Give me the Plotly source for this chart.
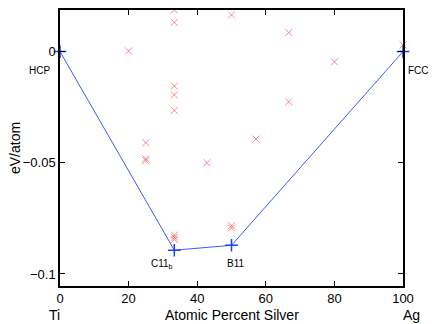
import plotly.graph_objects as go

# Red "x" structures: composition (at.% Ag) and formation energy (eV/atom)
pts_x = [20, 25, 25, 25, 33.33, 33.33, 33.33, 33.33, 33.33, 33.33, 33.33, 33.33,
         42.86, 50, 50, 50, 57.14, 66.67, 66.67, 80, 100]
pts_y = [0.0003, -0.041, -0.0482, -0.0490, 0.0187, 0.0131, -0.0155, -0.0195, -0.0265,
         -0.0825, -0.0835, -0.0845, -0.0500, 0.0165, -0.0783, -0.0793, -0.0393,
         0.0086, -0.0226, -0.0046, 0.0030]

# Convex hull (blue)
hull_x = [0, 33.33, 50, 100]
hull_y = [0, -0.0893, -0.0871, 0]

# Labels for hull structures (data coordinates)
lab_text = ["HCP", "FCC", "C11<sub>b</sub>", "B11"]
lab_x = [-6.1, 104.5, 29.7, 51.2]
lab_y = [-0.0085, -0.0085, -0.0957, -0.0951]

xticks = [0, 20, 40, 60, 80, 100]
yticks = [-0.1, -0.05, 0]
ytick_text = ["\u22120.1", "\u22120.05", "0"]

XR = [0, 100]
YR = [-0.1054, 0.0187]


def px(x):
    return (x - XR[0]) / (XR[1] - XR[0])


def py(y):
    return (y - YR[0]) / (YR[1] - YR[0])


fig = go.Figure()
fig.add_trace(go.Scatter(
    x=pts_x, y=pts_y, mode="markers",
    marker=dict(symbol="x-thin", size=7, line=dict(width=1, color="rgba(255,40,40,0.55)")),
    cliponaxis=False, showlegend=False, hoverinfo="x+y"))
fig.add_trace(go.Scatter(
    x=hull_x, y=hull_y, mode="lines+markers",
    line=dict(color="#3a5cff", width=1),
    marker=dict(symbol="cross-thin", size=9, line=dict(width=1.5, color="#1f3dff")),
    cliponaxis=False, showlegend=False))

ann = []
for t, x, y in zip(lab_text, lab_x, lab_y):
    ann.append(dict(x=px(x), y=py(y), xref="paper", yref="paper", text=t, showarrow=False,
                    font=dict(size=10, color="black"), xanchor="center", yanchor="middle"))
ann += [
    dict(x=px(-1.5), y=0, xref="paper", yref="paper", text="Ti", showarrow=False,
         font=dict(size=14), xanchor="center", yanchor="top", yshift=-19),
    dict(x=px(102.5), y=0, xref="paper", yref="paper", text="Ag", showarrow=False,
         font=dict(size=14), xanchor="center", yanchor="top", yshift=-19),
    dict(x=0.5, y=0, xref="paper", yref="paper", text="Atomic Percent Silver", showarrow=False,
         font=dict(size=14), xanchor="center", yanchor="top", yshift=-19),
    dict(x=0, y=0.5, xref="paper", yref="paper", text="eV/atom", showarrow=False,
         font=dict(size=14), textangle=-90, xanchor="center", yanchor="middle", xshift=-45),
]

# The page body has an 8px default margin, so the figure is sized to fit
fig.update_layout(
    width=428, height=316,
    margin=dict(l=52, r=33, t=0, b=38),
    paper_bgcolor="white", plot_bgcolor="white",
    font=dict(family="Liberation Sans, Arial, sans-serif", size=13, color="black"),
    annotations=ann,
    xaxis=dict(range=XR, tickvals=xticks, ticks="inside", ticklen=5, tickwidth=1,
               tickcolor="black", showline=True, linewidth=1.5, linecolor="black",
               mirror="ticks", showgrid=False, zeroline=False, tickfont=dict(size=13)),
    yaxis=dict(range=YR, tickvals=yticks, ticktext=ytick_text,
               ticks="inside", ticklen=5, tickwidth=1, tickcolor="black",
               showline=True, linewidth=1.5, linecolor="black", mirror="ticks",
               showgrid=False, zeroline=False, tickfont=dict(size=13)),
)

fig.write_html("out.html")
